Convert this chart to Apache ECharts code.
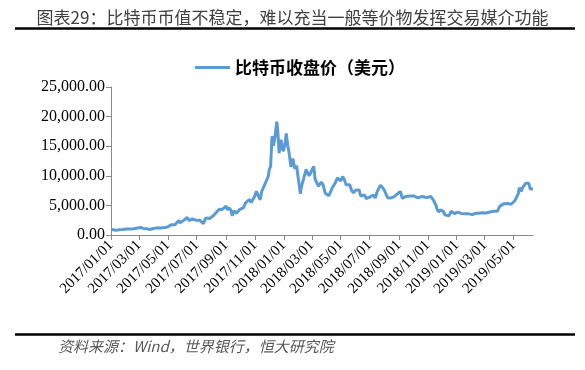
<!DOCTYPE html>
<html>
<head>
<meta charset="utf-8">
<script src="https://cdn.jsdelivr.net/npm/echarts@6/dist/echarts.min.js"></script>
<style>
html,body{margin:0;padding:0;background:#fff;}
#c{width:585px;height:370px;}
</style>
</head>
<body>
<div id="c"></div>
<script>
const titleText = '图表29：比特币币值不稳定，难以充当一般等价物发挥交易媒介功能';
const sourceText = '资料来源：Wind，世界银行，恒大研究院';
const seriesName = '比特币收盘价（美元）';
const tickDates = ['2017/01/01','2017/03/01','2017/05/01','2017/07/01','2017/09/01','2017/11/01','2018/01/01','2018/03/01','2018/05/01','2018/07/01','2018/09/01','2018/11/01','2019/01/01','2019/03/01','2019/05/01'];
const yTicks = [0, 5000, 10000, 15000, 20000, 25000];

const dates = [
'2017-01-01','2017-01-04','2017-01-06','2017-01-08','2017-01-11','2017-01-14','2017-01-18','2017-01-22','2017-01-26','2017-01-30',
'2017-02-03','2017-02-07','2017-02-10','2017-02-14','2017-02-18','2017-02-22','2017-02-26','2017-03-02','2017-03-05','2017-03-10',
'2017-03-14','2017-03-17','2017-03-20','2017-03-24','2017-03-28','2017-04-01','2017-04-05','2017-04-10','2017-04-15','2017-04-20',
'2017-04-25','2017-04-30','2017-05-04','2017-05-08','2017-05-12','2017-05-16','2017-05-20','2017-05-24','2017-05-25','2017-05-27',
'2017-05-31','2017-06-04','2017-06-07','2017-06-11','2017-06-15','2017-06-19','2017-06-22','2017-06-26','2017-06-30','2017-07-03',
'2017-07-07','2017-07-11','2017-07-15','2017-07-17','2017-07-20','2017-07-24','2017-07-28','2017-08-01','2017-08-05','2017-08-08',
'2017-08-12','2017-08-15','2017-08-17','2017-08-20','2017-08-24','2017-08-28','2017-09-01','2017-09-04','2017-09-07','2017-09-11',
'2017-09-14','2017-09-15','2017-09-18','2017-09-22','2017-09-26','2017-09-30','2017-10-04','2017-10-08','2017-10-12','2017-10-16',
'2017-10-20','2017-10-24','2017-10-28','2017-10-31','2017-11-04','2017-11-08','2017-11-12','2017-11-15','2017-11-19','2017-11-23',
'2017-11-26','2017-11-29','2017-12-01','2017-12-04','2017-12-07','2017-12-08','2017-12-10','2017-12-13','2017-12-17','2017-12-19',
'2017-12-22','2017-12-24','2017-12-26','2017-12-29','2017-12-31',
'2018-01-03','2018-01-06','2018-01-09','2018-01-12','2018-01-16','2018-01-17','2018-01-20','2018-01-24','2018-01-28','2018-02-01',
'2018-02-03','2018-02-05','2018-02-06','2018-02-09','2018-02-13','2018-02-17','2018-02-20','2018-02-23','2018-02-26','2018-03-01',
'2018-03-05','2018-03-08','2018-03-12','2018-03-15','2018-03-18','2018-03-21','2018-03-25','2018-03-29','2018-04-01','2018-04-06',
'2018-04-10','2018-04-13','2018-04-17','2018-04-20','2018-04-24','2018-04-28','2018-05-01','2018-05-05','2018-05-09','2018-05-12',
'2018-05-16','2018-05-20','2018-05-24','2018-05-28','2018-06-01','2018-06-05','2018-06-09','2018-06-12','2018-06-16','2018-06-20',
'2018-06-24','2018-06-28','2018-07-01','2018-07-05','2018-07-09','2018-07-13','2018-07-17','2018-07-20','2018-07-24','2018-07-27',
'2018-07-31','2018-08-04','2018-08-08','2018-08-11','2018-08-14','2018-08-18','2018-08-22','2018-08-26','2018-08-30','2018-09-04',
'2018-09-08','2018-09-12','2018-09-16','2018-09-20','2018-09-24','2018-09-28','2018-10-02','2018-10-06','2018-10-11','2018-10-15',
'2018-10-20','2018-10-25','2018-10-30','2018-11-03','2018-11-07','2018-11-11','2018-11-14','2018-11-16','2018-11-19','2018-11-20',
'2018-11-22','2018-11-24','2018-11-26','2018-11-28','2018-12-01','2018-12-04','2018-12-07','2018-12-11','2018-12-15','2018-12-18',
'2018-12-20','2018-12-23','2018-12-27','2018-12-31',
'2019-01-04','2019-01-08','2019-01-10','2019-01-14','2019-01-18','2019-01-22','2019-01-26','2019-01-30','2019-02-03','2019-02-07',
'2019-02-09','2019-02-13','2019-02-17','2019-02-20','2019-02-24','2019-02-28','2019-03-04','2019-03-08','2019-03-12','2019-03-16',
'2019-03-20','2019-03-24','2019-03-28','2019-04-01','2019-04-02','2019-04-05','2019-04-10','2019-04-14','2019-04-18','2019-04-22',
'2019-04-26','2019-04-30','2019-05-04','2019-05-08','2019-05-11','2019-05-13','2019-05-16','2019-05-17','2019-05-20','2019-05-24',
'2019-05-27','2019-05-30','2019-06-02','2019-06-05','2019-06-08','2019-06-11'
];
const closes = [
998,1154,895,911,778,818,880,922,915,920,
1015,1051,995,1004,1055,1125,1190,1222,1275,1098,
1243,1071,1048,937,1046,1098,1134,1208,1184,1239,
1280,1348,1507,1717,1726,1740,2041,2446,2304,2052,
2286,2518,2693,2958,2445,2640,2710,2426,2480,2630,
2507,2331,1930,2229,2871,2754,2796,2718,3253,3378,
3875,4067,4330,4086,4319,4385,4892,4228,4599,4227,
3226,3637,4094,3630,3880,4338,4209,4612,5428,5680,
5980,5512,5753,6468,7379,7444,5950,7301,8040,8060,
9330,9889,10975,11617,16678,16089,15059,16408,19140,17776,
13831,13925,16100,14656,14157,
15200,17174,15170,13900,11490,11189,12900,11200,11700,9170,
9175,6955,7754,8703,8560,11070,11404,10005,10398,10950,
11573,9395,9205,8260,8223,8930,8470,7090,6844,6636,
6842,7929,7902,8864,9651,9393,9119,9858,9325,8504,
8322,8500,7520,7110,7541,7630,7624,6584,6500,6770,
6160,5900,6395,6550,6740,6250,7322,7375,8424,8230,
7730,7040,6306,6139,6232,6380,6476,6714,7046,7366,
6200,6345,6520,6480,6590,6644,6600,6590,6273,6600,
6516,6422,6311,6388,6530,6411,5738,5574,4820,4452,
4320,3880,3860,4270,4210,3960,3400,3440,3237,3592,
4028,3940,3630,3740,
3860,4030,3630,3600,3600,3570,3570,3460,3440,3400,
3660,3600,3670,3950,3750,3860,3730,3870,3870,4020,
4000,3990,4020,4140,4880,5040,5260,5180,5310,5400,
5200,5350,5830,5950,6990,8000,7880,7350,8000,7990,
8760,8660,8740,7770,7800,7800
];

const toTs = s => { const p = s.split(/[-\/]/).map(Number); return Date.UTC(p[0], p[1]-1, p[2]); };
const seriesData = dates.map((d, i) => [toTs(d), closes[i]]);
const tickTs = tickDates.map(toTs);
const pad = n => (n < 10 ? '0' : '') + n;
const fmtDate = v => { const d = new Date(v); return d.getUTCFullYear() + '/' + pad(d.getUTCMonth()+1) + '/' + pad(d.getUTCDate()); };

const chart = echarts.init(document.getElementById('c'), null, {renderer: 'canvas'});
chart.setOption({
  animation: false,
  backgroundColor: '#ffffff',
  title: {
    text: titleText,
    left: 'center',
    top: 4,
    textStyle: {fontFamily: 'Noto Sans CJK SC', fontSize: 17, fontWeight: 'normal', color: '#404040'}
  },
  legend: {
    data: [{name: seriesName, icon: 'rect'}],
    left: 190,
    top: 54,
    itemWidth: 35,
    itemHeight: 3,
    itemGap: 10,
    textStyle: {fontFamily: 'Noto Sans CJK SC', fontSize: 17, fontWeight: 'bold', color: '#000'}
  },
  graphic: [
    {type: 'line', shape: {x1: 15, y1: 28.5, x2: 575, y2: 28.5}, style: {stroke: '#000', lineWidth: 2.5}},
    {type: 'line', shape: {x1: 15, y1: 334.5, x2: 575, y2: 334.5}, style: {stroke: '#000', lineWidth: 2.5}},
    {type: 'text', left: 58, top: 339, style: {text: sourceText, font: 'italic 15px "Noto Sans CJK SC"', fill: '#595959'}}
  ],
  grid: {left: 111, right: 52, top: 87, bottom: 135, containLabel: false},
  xAxis: {
    type: 'value',
    min: tickTs[0],
    max: toTs(dates[dates.length - 1]),
    scale: true,
    splitLine: {show: false},
    axisLine: {lineStyle: {color: '#898989', width: 1}},
    axisTick: {show: true, length: 5, lineStyle: {color: '#898989'}, customValues: tickTs},
    axisLabel: {
      customValues: tickTs,
      rotate: 45,
      margin: 8,
      fontFamily: 'Liberation Serif',
      fontSize: 15,
      color: '#000',
      showMinLabel: true,
      showMaxLabel: true,
      hideOverlap: false,
      formatter: v => fmtDate(v)
    }
  },
  yAxis: {
    type: 'value',
    min: yTicks[0],
    max: yTicks[yTicks.length - 1],
    interval: 5000,
    splitLine: {show: false},
    axisLine: {show: true, lineStyle: {color: '#898989', width: 1}},
    axisTick: {show: true, length: 5, lineStyle: {color: '#898989'}},
    axisLabel: {
      margin: 6,
      fontFamily: 'Liberation Serif',
      fontSize: 16,
      color: '#000',
      formatter: v => v.toLocaleString('en-US', {minimumFractionDigits: 2, maximumFractionDigits: 2})
    }
  },
  series: [{
    name: seriesName,
    type: 'line',
    data: seriesData,
    showSymbol: false,
    symbol: 'none',
    lineStyle: {color: '#5B9BD5', width: 3},
    itemStyle: {color: '#5B9BD5'}
  }]
});
</script>
</body>
</html>
